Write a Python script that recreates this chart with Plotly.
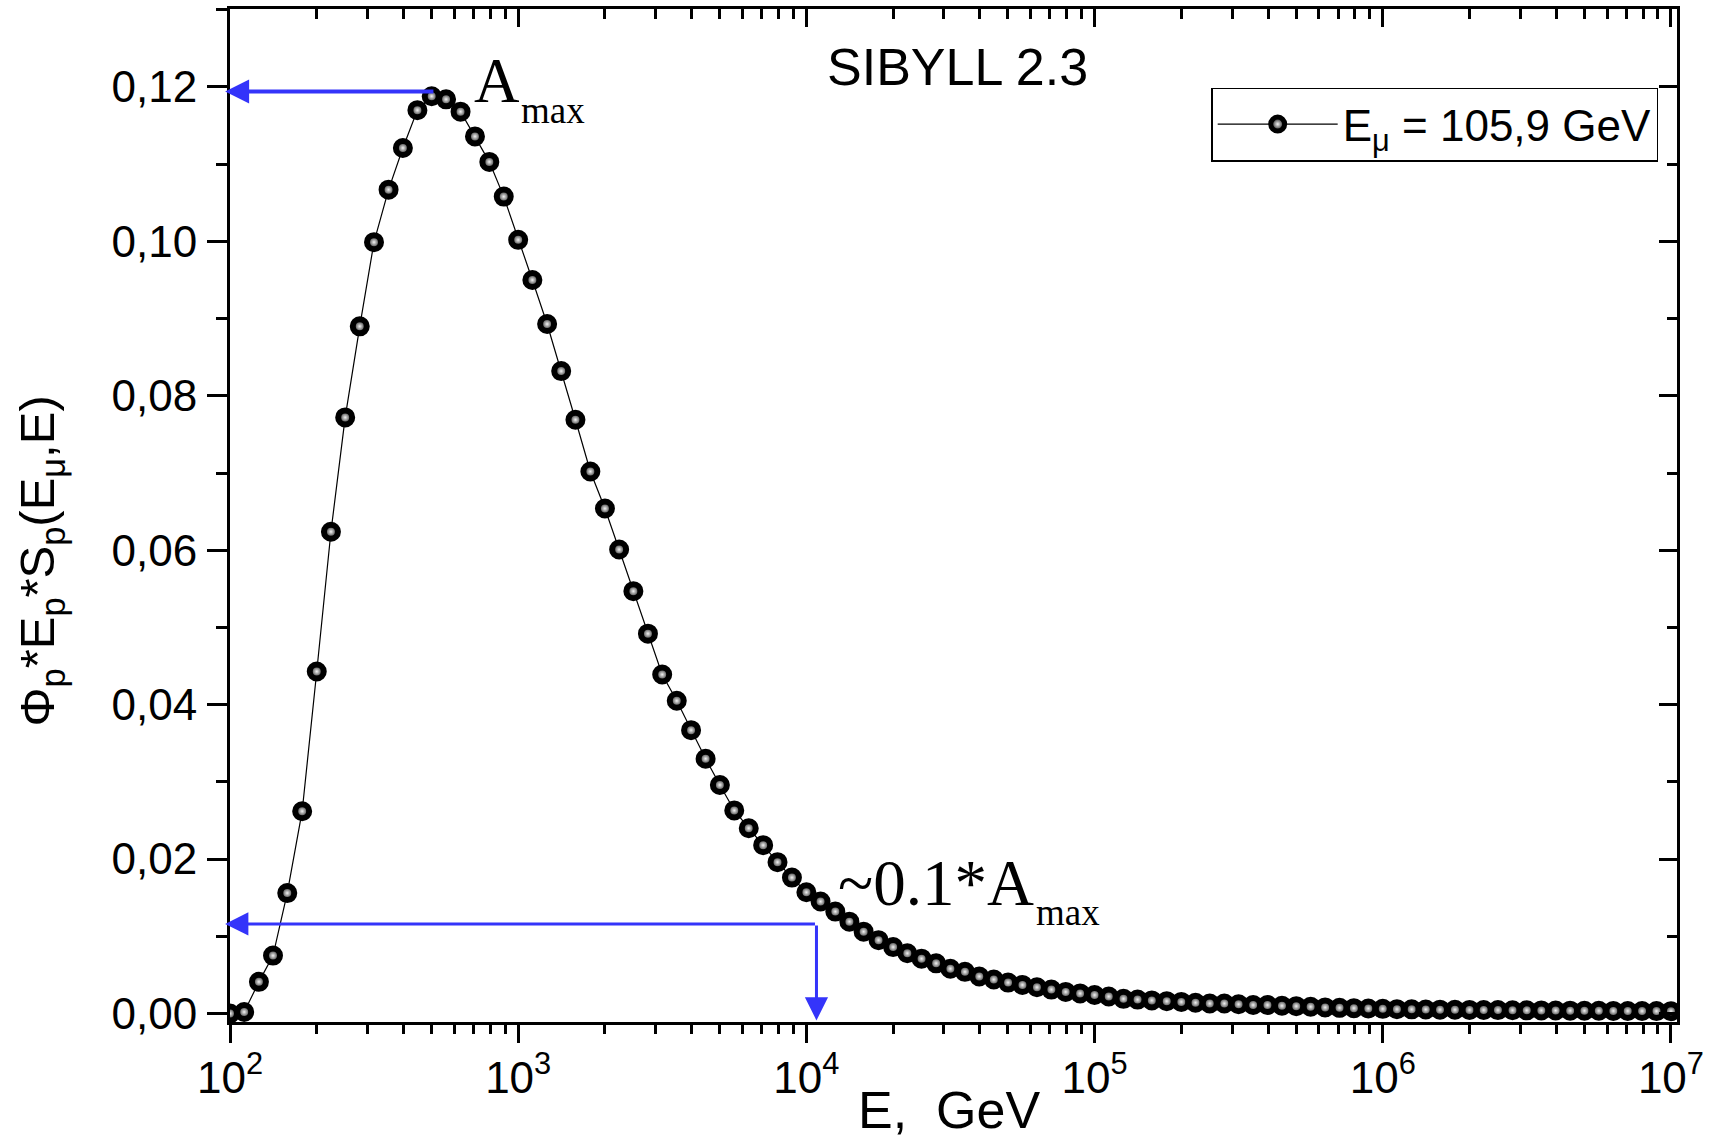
import plotly.graph_objects as go

# ---------------- data ----------------
E_GeV = [
    1.00e2, 1.12e2, 1.26e2, 1.41e2, 1.58e2, 1.78e2, 2.00e2, 2.24e2, 2.51e2, 2.82e2,
    3.16e2, 3.55e2, 3.98e2, 4.47e2, 5.01e2, 5.62e2, 6.31e2, 7.08e2, 7.94e2, 8.91e2,
    1.00e3, 1.12e3, 1.26e3, 1.41e3, 1.58e3, 1.78e3, 2.00e3, 2.24e3, 2.51e3, 2.82e3,
    3.16e3, 3.55e3, 3.98e3, 4.47e3, 5.01e3, 5.62e3, 6.31e3, 7.08e3, 7.94e3, 8.91e3,
    1.00e4, 1.12e4, 1.26e4, 1.41e4, 1.58e4, 1.78e4, 2.00e4, 2.24e4, 2.51e4, 2.82e4,
    3.16e4, 3.55e4, 3.98e4, 4.47e4, 5.01e4, 5.62e4, 6.31e4, 7.08e4, 7.94e4, 8.91e4,
    1.00e5, 1.12e5, 1.26e5, 1.41e5, 1.58e5, 1.78e5, 2.00e5, 2.24e5, 2.51e5, 2.82e5,
    3.16e5, 3.55e5, 3.98e5, 4.47e5, 5.01e5, 5.62e5, 6.31e5, 7.08e5, 7.94e5, 8.91e5,
    1.00e6, 1.12e6, 1.26e6, 1.41e6, 1.58e6, 1.78e6, 2.00e6, 2.24e6, 2.51e6, 2.82e6,
    3.16e6, 3.55e6, 3.98e6, 4.47e6, 5.01e6, 5.62e6, 6.31e6, 7.08e6, 7.94e6, 8.91e6,
    1.00e7,
]

PHI_E_S = [
    0.0, 0.0002, 0.0041, 0.0075, 0.0156, 0.0262, 0.0443, 0.0624, 0.0772, 0.0890,
    0.0999, 0.1067, 0.1121, 0.1170, 0.1188, 0.1184, 0.1168, 0.1136, 0.1103, 0.1058,
    0.1002, 0.0950, 0.0893, 0.0832, 0.0769, 0.0702, 0.0654, 0.0601, 0.0547, 0.0492,
    0.0439, 0.0405, 0.0367, 0.0330, 0.0296, 0.0263, 0.0240, 0.0218, 0.0196, 0.0176,
    0.0157, 0.0145, 0.0132, 0.0119, 0.0106, 0.0095, 0.0086, 0.0078, 0.0071, 0.0065,
    0.0058, 0.0054, 0.0048, 0.0044, 0.0040, 0.0037, 0.0034, 0.0031, 0.0028, 0.0026,
    0.0024, 0.0022, 0.0019, 0.0018, 0.0017, 0.0016, 0.0015, 0.0014, 0.0013, 0.0013,
    0.0012, 0.0011, 0.0011, 0.0010, 0.00095, 0.00087, 0.00079, 0.00073, 0.00069, 0.00065,
    0.00060, 0.00056, 0.00054, 0.00052, 0.00050, 0.00048, 0.00047, 0.00045, 0.00044, 0.00042,
    0.00041, 0.00040, 0.00039, 0.00037, 0.00036, 0.00035, 0.00034, 0.00033, 0.00032, 0.00031,
    0.00030,
]

SERIES_NAME = "E<sub>μ</sub> = 105,9 GeV"

X_TICK_VALS = [1e2, 1e3, 1e4, 1e5, 1e6, 1e7]
X_TICK_TEXT = ["10<sup>2</sup>", "10<sup>3</sup>", "10<sup>4</sup>",
               "10<sup>5</sup>", "10<sup>6</sup>", "10<sup>7</sup>"]
Y_TICK_VALS = [0.00, 0.02, 0.04, 0.06, 0.08, 0.10, 0.12]
Y_TICK_TEXT = ["0,00", "0,02", "0,04", "0,06", "0,08", "0,10", "0,12"]

# arrow levels (positions of the blue guide arrows)
ARROW_TOP_Y = 0.1194
ARROW_TOP_TAIL_LOGX = 2.711
ARROW_LOW_Y = 0.0116
ARROW_LOW_LOGX = 4.035
ARROW_TIP_LOGX = 1.983
ARROW_TIP_Y = -0.0009

# ---------------- styling ----------------
SANS = "Liberation Sans, Arial, sans-serif"
SERIF = "Liberation Serif, Times New Roman, serif"
BLUE = "#3434fa"
X_RANGE = [2.0, 7.021]
Y_RANGE = [-0.0011, 0.1301]

fig = go.Figure()

fig.add_trace(go.Scatter(
    x=E_GeV, y=PHI_E_S, mode="lines+markers", name=SERIES_NAME,
    line=dict(color="black", width=1.2),
    marker=dict(size=14, color="black",
                gradient=dict(type="radial", color="#f4f4f4"),
                line=dict(color="black", width=6)),
))
# empty trace to attach the mirrored top/right axes
fig.add_trace(go.Scatter(x=[], y=[], xaxis="x2", yaxis="y2", showlegend=False,
                         hoverinfo="skip"))

axis_common = dict(showgrid=False, zeroline=False, showline=True, linecolor="black",
                   linewidth=3, tickcolor="black", tickwidth=2.5)

fig.update_layout(
    width=1715, height=1138,
    margin=dict(l=230, r=38, t=9, b=116),
    paper_bgcolor="white", plot_bgcolor="white",
    font=dict(family=SANS, color="black", size=44),
    showlegend=True,
    legend=dict(x=0.987, y=0.9225, xanchor="right", yanchor="top",
                bgcolor="white", bordercolor="black", borderwidth=1.5,
                font=dict(family=SANS, size=44), itemwidth=120,
                tracegroupgap=0),
    xaxis=dict(type="log", range=X_RANGE, tickmode="array", tickvals=X_TICK_VALS,
               ticktext=X_TICK_TEXT, ticks="outside", ticklen=18,
               tickfont=dict(family=SANS, size=44), ticklabelstandoff=-3,
               minor=dict(ticks="outside", ticklen=9, dtick="D1",
                          tickcolor="black", tickwidth=2.5),
               **axis_common),
    yaxis=dict(range=Y_RANGE, tickmode="array", tickvals=Y_TICK_VALS,
               ticktext=Y_TICK_TEXT, ticks="outside", ticklen=20,
               tickfont=dict(family=SANS, size=44), ticklabelstandoff=1,
               minor=dict(ticks="outside", ticklen=11, dtick=0.01,
                          tickcolor="black", tickwidth=2.5),
               **axis_common),
    xaxis2=dict(type="log", range=X_RANGE, overlaying="x", side="top",
                anchor="y2", tickmode="array", tickvals=X_TICK_VALS,
                showticklabels=False, ticks="inside", ticklen=18,
                minor=dict(ticks="inside", ticklen=10, dtick="D1",
                           tickcolor="black", tickwidth=2.5),
                **axis_common),
    yaxis2=dict(range=Y_RANGE, overlaying="y", side="right", anchor="x2",
                tickmode="array", tickvals=Y_TICK_VALS, showticklabels=False,
                ticks="inside", ticklen=18,
                minor=dict(ticks="inside", ticklen=10, dtick=0.01,
                           tickcolor="black", tickwidth=2.5),
                **axis_common),
)

annotations = [
    # axis titles
    dict(text="E,  GeV", xref="paper", yref="paper", x=0.497, y=-0.087,
         xanchor="center", yanchor="middle", showarrow=False,
         font=dict(family=SANS, size=52)),
    dict(text="Φ<sub>p</sub>*E<sub>p</sub>*S<sub>p</sub>(E<sub>μ</sub>,E)",
         xref="paper", yref="paper", x=-0.131, y=0.455, textangle=-90,
         xanchor="center", yanchor="middle", showarrow=False,
         font=dict(family=SANS, size=49)),
    # model label
    dict(text="SIBYLL 2.3", xref="paper", yref="paper", x=0.503, y=0.943,
         xanchor="center", yanchor="middle", showarrow=False,
         font=dict(family=SANS, size=52)),
    # A_max labels
    dict(text="A", xref="paper", yref="paper", x=0.167, y=0.929,
         xanchor="left", yanchor="middle", showarrow=False,
         font=dict(family=SERIF, size=63)),
    dict(text="max", xref="paper", yref="paper", x=0.200, y=0.8995,
         xanchor="left", yanchor="middle", showarrow=False,
         font=dict(family=SERIF, size=37)),
    dict(text="~0.1*A", xref="paper", yref="paper", x=0.419, y=0.1372,
         xanchor="left", yanchor="middle", showarrow=False,
         font=dict(family=SERIF, size=65)),
    dict(text="max", xref="paper", yref="paper", x=0.5555, y=0.1081,
         xanchor="left", yanchor="middle", showarrow=False,
         font=dict(family=SERIF, size=37)),
    # blue arrows
    dict(text="", xref="x", yref="y", axref="x", ayref="y",
         x=ARROW_TIP_LOGX, y=ARROW_TOP_Y, ax=ARROW_TOP_TAIL_LOGX, ay=ARROW_TOP_Y,
         showarrow=True, arrowhead=2, arrowwidth=4, arrowsize=1.2,
         arrowcolor=BLUE, standoff=0, startstandoff=0),
    dict(text="", xref="x", yref="y", axref="x", ayref="y",
         x=ARROW_TIP_LOGX, y=ARROW_LOW_Y, ax=ARROW_LOW_LOGX, ay=ARROW_LOW_Y,
         showarrow=True, arrowhead=2, arrowwidth=3, arrowsize=1.55,
         arrowcolor=BLUE, standoff=0, startstandoff=0),
    dict(text="", xref="x", yref="y", axref="x", ayref="y",
         x=ARROW_LOW_LOGX, y=ARROW_TIP_Y, ax=ARROW_LOW_LOGX, ay=ARROW_LOW_Y,
         showarrow=True, arrowhead=2, arrowwidth=3, arrowsize=1.55,
         arrowcolor=BLUE, standoff=0, startstandoff=0),
]
fig.update_layout(annotations=annotations)

fig.write_html("out.html")
